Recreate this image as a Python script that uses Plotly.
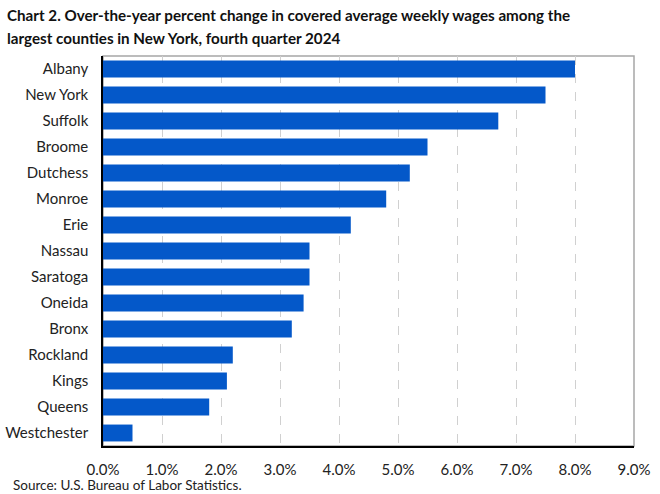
import plotly.graph_objects as go

counties = ["Albany", "New York", "Suffolk", "Broome", "Dutchess", "Monroe", "Erie",
            "Nassau", "Saratoga", "Oneida", "Bronx", "Rockland", "Kings", "Queens", "Westchester"]
pct_change = [8.0, 7.5, 6.7, 5.5, 5.2, 4.8, 4.2, 3.5, 3.5, 3.4, 3.2, 2.2, 2.1, 1.8, 0.5]
tick_vals = [0, 1, 2, 3, 4, 5, 6, 7, 8, 9]
tick_text = ["0.0%", "1.0%", "2.0%", "3.0%", "4.0%", "5.0%", "6.0%", "7.0%", "8.0%", "9.0%"]
title_lines = [
    "Chart 2. Over-the-year percent change in covered average weekly wages among the",
    "largest counties in New York, fourth quarter 2024",
]
source_text = "Source: U.S. Bureau of Labor Statistics."

FONT = "Lato, Open Sans, sans-serif"

# plot area in pixels: x 103..634, y 56..446
L, R, T, B = 103, 634, 56, 446
W, H = R - L, B - T


def px_x(x):
    return (x - L) / W


def px_y(y):
    return (B - y) / H


fig = go.Figure(go.Bar(
    x=pct_change, y=counties, orientation="h",
    marker=dict(color="#0458c9", line=dict(width=0)),
    hovertemplate="%{y}: %{x:.1f}%<extra></extra>",
))

annotations = []
for line, yc in zip(title_lines, [15, 38.5]):
    annotations.append(dict(
        text="<b>" + line + "</b>", xref="paper", yref="paper",
        x=px_x(5), y=px_y(yc), xanchor="left", yanchor="middle", showarrow=False,
        font=dict(family=FONT, size=15.2, color="#111111"),
    ))
annotations.append(dict(
    text=source_text, xref="paper", yref="paper",
    x=px_x(11), y=px_y(485), xanchor="left", yanchor="middle", showarrow=False,
    font=dict(family=FONT, size=13.5, color="#222222"),
))

fig.update_layout(
    width=660, height=494,
    margin=dict(l=L, r=660 - R, t=T, b=494 - B, autoexpand=False),
    plot_bgcolor="white", paper_bgcolor="white",
    bargap=0.35,
    showlegend=False,
    font=dict(family=FONT, size=15, color="#222222"),
    xaxis=dict(
        range=[0, 9], tickvals=tick_vals, ticktext=tick_text,
        showgrid=True, gridcolor="#d0d0d0", griddash="dash", gridwidth=1,
        showline=True, linecolor="#000000", linewidth=1.5,
        ticks="", ticklabelstandoff=9, automargin=False,
        zeroline=False, tickfont=dict(size=15),
    ),
    yaxis=dict(
        autorange="reversed", showline=True, linecolor="#000000", linewidth=1.5,
        ticks="", ticklabelstandoff=10, showgrid=False, automargin=False,
        tickfont=dict(size=15),
    ),
    shapes=[dict(type="rect", xref="paper", yref="paper", x0=0, x1=1, y0=0, y1=1,
                 line=dict(color="#a6a6a6", width=1.5), layer="below")],
    annotations=annotations,
)

fig.write_html("out.html", config={"displayModeBar": False},
               post_script="document.body.style.margin='0';")
